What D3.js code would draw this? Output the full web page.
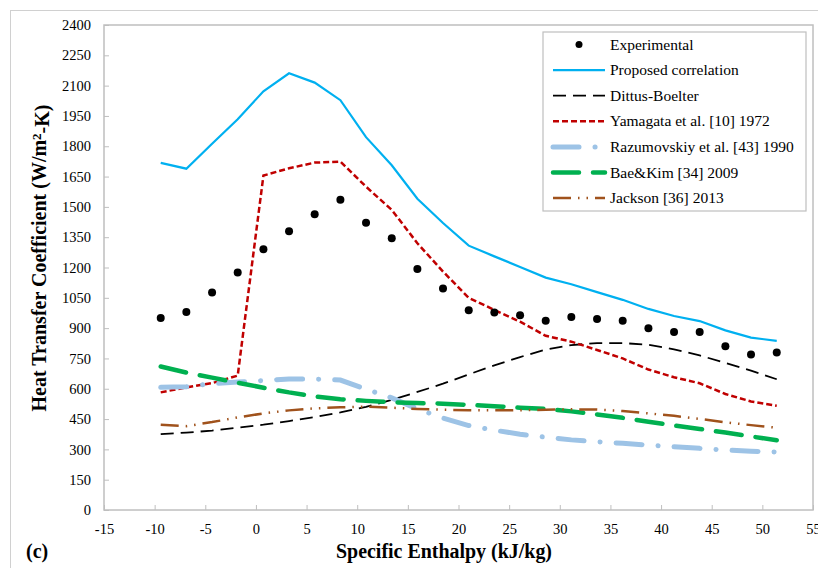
<!DOCTYPE html>
<html>
<head>
<meta charset="utf-8">
<script src="https://cdn.jsdelivr.net/npm/d3@7"></script>
<style>
  body { margin: 0; background: #fff; }
  svg { display: block; font-family: "Liberation Serif", "Times New Roman", serif; }
</style>
</head>
<body>
<svg id="chart" width="818" height="568"></svg>
<script>
// enthalpy positions shared by all series (kJ/kg)
const enthalpy = [-9.4, -6.87, -4.33, -1.8, 0.74, 3.27, 5.8, 8.34, 10.87, 13.41, 15.94, 18.47,
    21.01, 23.54, 26.08, 28.61, 31.14, 33.68, 36.21, 38.75, 41.28, 43.81, 46.35, 48.88, 51.42];

const experimental = [950, 980, 1076, 1175, 1290, 1380, 1463, 1535, 1422, 1345, 1193, 1096,
    988, 977, 964, 936, 955, 945, 937, 899, 881, 881, 810, 769, 779];
const proposed = [1718, 1689, 1812, 1934, 2072, 2161, 2115, 2028, 1845, 1706, 1540, 1420,
    1308, 1255, 1203, 1150, 1117, 1078, 1040, 995, 960, 935, 889, 853, 837];
const dittus = [375, 383, 393, 407, 422, 440, 460, 483, 510, 545, 584, 625,
    671, 716, 757, 794, 816, 826, 826, 818, 795, 765, 728, 690, 647];
const yamagata = [582, 607, 628, 665, 1655, 1691, 1719, 1724, 1600, 1485, 1320, 1180,
    1050, 990, 932, 862, 833, 792, 750, 695, 657, 627, 574, 537, 516];
const razumovskiy = [607, 610, 625, 633, 641, 648, 648, 643, 598, 555, 500, 455,
    418, 395, 375, 360, 347, 338, 330, 321, 313, 305, 297, 291, 287];
const baeKim = [710, 680, 655, 630, 605, 582, 562, 548, 540, 533, 529, 526,
    520, 514, 506, 500, 488, 473, 456, 437, 418, 401, 383, 364, 345];
const jackson = [422, 415, 435, 458, 478, 493, 503, 508, 512, 506, 500, 496,
    494, 493, 494, 496, 498, 497, 490, 478, 466, 451, 434, 420, 407];

const xTicks = [-15, -10, -5, 0, 5, 10, 15, 20, 25, 30, 35, 40, 45, 50, 55];
const yTicks = [0, 150, 300, 450, 600, 750, 900, 1050, 1200, 1350, 1500, 1650, 1800, 1950, 2100, 2250, 2400];

const lineSeries = [
    { name: "Proposed correlation", values: proposed, color: "#00B0F0", width: 2.2, dash: null, cap: "butt" },
    { name: "Dittus-Boelter", values: dittus, color: "#000000", width: 1.8, dash: "13,7", cap: "butt" },
    { name: "Yamagata et al. [10] 1972", values: yamagata, color: "#C00000", width: 2.5, dash: "6,3", cap: "butt" },
    { name: "Razumovskiy et al. [43] 1990", values: razumovskiy, color: "#9DC3E6", width: 5, dash: "26,16,0.1,16", cap: "round" },
    { name: "Bae&Kim [34] 2009", values: baeKim, color: "#00B050", width: 4.5, dash: "26,14", cap: "round" },
    { name: "Jackson [36] 2013", values: jackson, color: "#A0521C", width: 2.5, dash: "18,7,1.5,7,1.5,7", cap: "butt" }
];

const svg = d3.select("#chart");
const plotLeft = 104, plotRight = 813, plotTop = 25, plotBottom = 510;
const serif = "'Liberation Serif', 'Times New Roman', serif";

const x = d3.scaleLinear().domain([-15, 55]).range([plotLeft, plotRight]);
const y = d3.scaleLinear().domain([0, 2400]).range([plotBottom, plotTop]);

// outer chart border
svg.append("rect")
    .attr("x", 10.5).attr("y", 10.5)
    .attr("width", 830).attr("height", 600)
    .attr("fill", "none")
    .attr("stroke", "#D0D0D0")
    .attr("stroke-width", 1);

// axes with inward ticks, plain number labels
const plain = d => String(d);
const xAxis = svg.append("g")
    .attr("transform", `translate(0,${plotBottom})`)
    .call(d3.axisBottom(x).tickValues(xTicks).tickFormat(plain)
        .tickSizeInner(-5).tickSizeOuter(0).tickPadding(14));
const yAxis = svg.append("g")
    .attr("transform", `translate(${plotLeft},0)`)
    .call(d3.axisLeft(y).tickValues(yTicks).tickFormat(plain)
        .tickSizeInner(-5).tickSizeOuter(0).tickPadding(13));

[xAxis, yAxis].forEach(g => {
    g.attr("font-family", null).attr("font-size", null);
    g.select(".domain").remove();
    g.selectAll(".tick line").attr("stroke", "#BFBFBF");
    g.selectAll(".tick text")
        .attr("fill", "#000")
        .style("font-family", serif)
        .style("font-size", "14.5px");
});

// plot area frame
svg.append("rect")
    .attr("x", plotLeft).attr("y", plotTop)
    .attr("width", plotRight - plotLeft).attr("height", plotBottom - plotTop)
    .attr("fill", "none")
    .attr("stroke", "#BFBFBF")
    .attr("stroke-width", 1.5);

// lines
const line = values => d3.line()
    .x((d, i) => x(enthalpy[i]))
    .y(d => y(d))(values);

lineSeries.forEach(s => {
    svg.append("path")
        .attr("d", line(s.values))
        .attr("fill", "none")
        .attr("stroke", s.color)
        .attr("stroke-width", s.width)
        .attr("stroke-dasharray", s.dash)
        .attr("stroke-linecap", s.cap);
});

// experimental points
svg.selectAll(".exp")
    .data(experimental)
    .enter().append("circle")
    .attr("class", "exp")
    .attr("cx", (d, i) => x(enthalpy[i]))
    .attr("cy", d => y(d))
    .attr("r", 4)
    .attr("fill", "#000");

// legend
const legend = svg.append("g");
legend.append("rect")
    .attr("x", 543).attr("y", 32)
    .attr("width", 263).attr("height", 179)
    .attr("fill", "#fff")
    .attr("stroke", "#BFBFBF")
    .attr("stroke-width", 1.2);

const rowY = i => 44.5 + i * 25.6;
legend.append("circle")
    .attr("cx", 579).attr("cy", rowY(0))
    .attr("r", 3.5).attr("fill", "#000");
legend.append("text")
    .attr("x", 610).attr("y", rowY(0)).attr("dy", "0.33em")
    .style("font-size", "15.5px").text("Experimental");

lineSeries.forEach((s, i) => {
    const yy = rowY(i + 1);
    legend.append("line")
        .attr("x1", 553).attr("x2", 605)
        .attr("y1", yy).attr("y2", yy)
        .attr("stroke", s.color)
        .attr("stroke-width", s.width)
        .attr("stroke-dasharray", s.dash)
        .attr("stroke-linecap", s.cap);
    legend.append("text")
        .attr("x", 610).attr("y", yy).attr("dy", "0.33em")
        .style("font-size", "15.5px").text(s.name);
});

// axis titles
svg.append("text")
    .attr("x", 444).attr("y", 558)
    .attr("text-anchor", "middle")
    .attr("textLength", 216).attr("lengthAdjust", "spacingAndGlyphs")
    .style("font-size", "20px").style("font-weight", "bold")
    .text("Specific Enthalpy (kJ/kg)");

const yTitle = svg.append("text")
    .attr("transform", "translate(46,258) rotate(-90)")
    .attr("text-anchor", "middle")
    .style("font-size", "20px").style("font-weight", "bold");
yTitle.append("tspan").text("Heat Transfer Coefficient (W/m");
yTitle.append("tspan").attr("dy", "-0.4em").style("font-size", "13px").text("2");
yTitle.append("tspan").attr("dy", "0.4em").text("-K)");

svg.append("text")
    .attr("x", 26).attr("y", 558)
    .style("font-size", "20px").style("font-weight", "bold")
    .text("(c)");
</script>
</body>
</html>
